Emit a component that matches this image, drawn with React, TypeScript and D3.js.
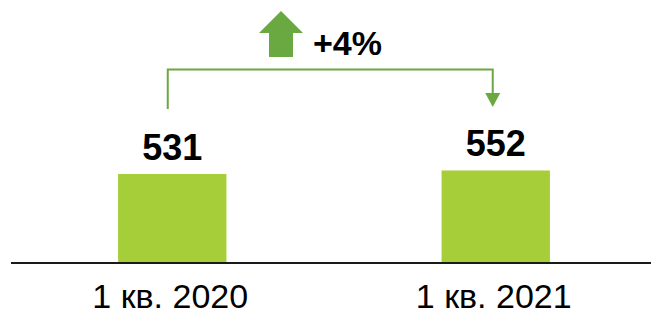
import { useRef, useEffect } from 'react'
import * as d3 from 'd3'

const categories = ['1 кв. 2020', '1 кв. 2021']
const values = [531, 552]
const changeLabel = '+4%'

function Chart() {
  const chartRef = useRef<HTMLDivElement>(null)

  function renderChart(container: HTMLDivElement | null) {
    if (container === null) {
      return
    }
    const width = 651
    const height = 315
    const baseY = 263

    container.innerHTML = ''
    const svg = d3.select(container).append('svg')
      .attr('width', width)
      .attr('height', height)
      .style('position', 'absolute')
      .style('left', '0px')
      .style('top', '0px')
      .style('font-family', 'Arial, "Liberation Sans", sans-serif')

    const x = d3.scaleBand<string>()
      .domain(categories)
      .range([11, 657])
      .paddingInner(0.665)
      .paddingOuter(0.331)

    const y = d3.scaleLinear()
      .domain([0, 1569])
      .range([baseY, 0])

    // bars
    svg.selectAll('rect.bar')
      .data(values)
      .enter().append('rect')
      .attr('class', 'bar')
      .attr('x', (d, i) => x(categories[i])!)
      .attr('y', d => y(d))
      .attr('width', x.bandwidth())
      .attr('height', d => baseY - y(d))
      .attr('fill', '#a6ce39')

    // value labels
    svg.selectAll('text.val')
      .data(values)
      .enter().append('text')
      .attr('class', 'val')
      .attr('x', (d, i) => x(categories[i])! + x.bandwidth() / 2)
      .attr('y', d => y(d) - 14)
      .attr('text-anchor', 'middle')
      .attr('font-size', 36)
      .attr('font-weight', 'bold')
      .attr('fill', '#000')
      .text(d => d)

    // axis line
    svg.append('line')
      .attr('x1', 11)
      .attr('x2', width)
      .attr('y1', baseY)
      .attr('y2', baseY)
      .attr('stroke', '#1a1a1a')
      .attr('stroke-width', 2)

    // category labels
    svg.selectAll('text.cat')
      .data(categories)
      .enter().append('text')
      .attr('class', 'cat')
      .attr('x', d => x(d)! + x.bandwidth() / 2 - 2)
      .attr('y', 308)
      .attr('text-anchor', 'middle')
      .attr('font-size', 34)
      .attr('fill', '#000')
      .text(d => d)

    // bracket with arrow
    const green = '#6aa842'
    const lx = x(categories[0])! + x.bandwidth() / 2 - 4.5
    const rx = x(categories[1])! + x.bandwidth() / 2 - 3
    const topY = 69.5
    svg.append('path')
      .attr('d', `M${lx},${y(values[0]) - 65} V${topY} H${rx} V${96}`)
      .attr('fill', 'none')
      .attr('stroke', green)
      .attr('stroke-width', 2)
    svg.append('path')
      .attr('d', `M${rx - 7.5},93 L${rx + 7.5},93 L${rx},107 Z`)
      .attr('fill', green)

    // block up arrow
    const ax = 281
    svg.append('path')
      .attr('d', `M${ax},11 L${ax + 22},33 L${ax + 12},33 L${ax + 12},57 L${ax - 12},57 L${ax - 12},33 L${ax - 22},33 Z`)
      .attr('fill', green)

    svg.append('text')
      .attr('x', 313)
      .attr('y', 55)
      .attr('font-size', 34)
      .attr('font-weight', 'bold')
      .attr('fill', '#000')
      .text(changeLabel)
  }

  useEffect(() => {
    renderChart(chartRef.current)
  })

  return (
    <div ref={chartRef}>
    </div>
  )
}

export default function App() {
  return <Chart />
}
